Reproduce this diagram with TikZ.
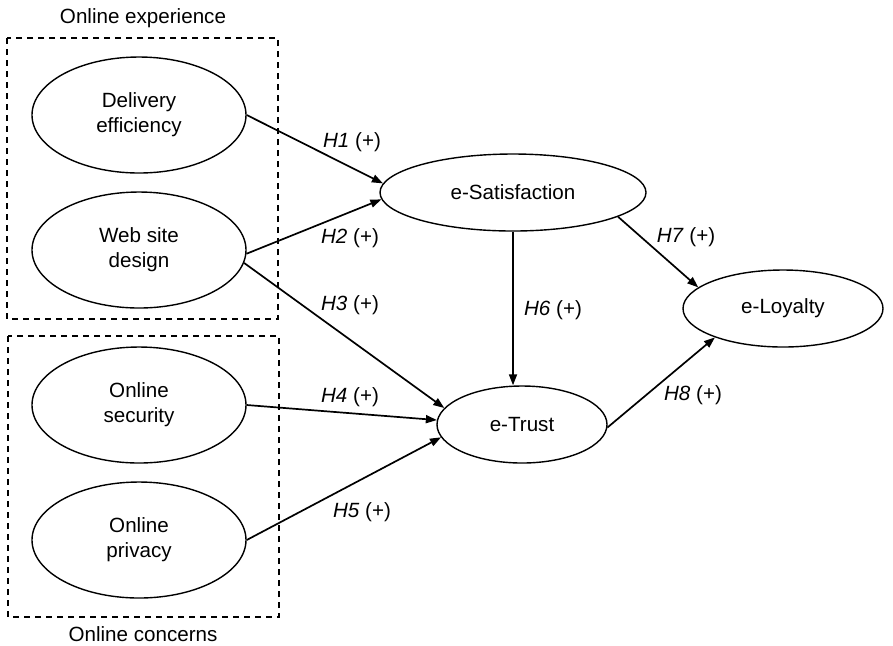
\documentclass[tikz,border=0pt]{standalone}
\usepackage{fontspec}
\setmainfont{Liberation Sans}
\usetikzlibrary{arrows.meta,shapes.geometric}

\begin{document}
\begin{tikzpicture}[x=0.5pt,y=-0.5pt,
	construct/.style={draw, ellipse, line width=0.7pt, inner sep=0pt, align=center, font=\fontsize{10.3}{12.4}\selectfont},
	hyp/.style={-{Triangle[length=5.5pt,width=4pt]}, line width=0.85pt},
	hlabel/.style={inner sep=0pt, font=\fontsize{10.3}{12.4}\selectfont},
	groupbox/.style={dash pattern=on 3pt off 2.5pt, line width=0.7pt}]
			%%%%% START %%%%%
			
			\useasboundingbox (0, 0) rectangle (893, 645);
			
			\draw[groupbox] (7, 38) rectangle (278, 319);
			\node[hlabel] (experience) at (143, 18) {Online experience};
			
			\draw[groupbox] (8, 336) rectangle (279, 617);
			\node[hlabel] (concerns) at (143, 634) {Online concerns};
			
			\node[construct, minimum width=107pt, minimum height=58pt] (deliv) at (139, 115) {Delivery\\efficiency};
			\node[construct, minimum width=107pt, minimum height=58pt] (webdes) at (139, 250) {Web site\\design};
			\node[construct, minimum width=107pt, minimum height=58pt] (secur) at (139, 405) {Online\\security};
			\node[construct, minimum width=107pt, minimum height=58pt] (privacy) at (139, 540) {Online\\privacy};
			
			\node[construct, minimum width=133pt, minimum height=38.5pt] (esat) at (513, 192.5) {e-Satisfaction};
			\node[construct, minimum width=85pt, minimum height=38.5pt] (etrust) at (522, 424.5) {e-Trust};
			\node[construct, minimum width=100pt, minimum height=38.5pt] (eloyal) at (783, 308.5) {e-Loyalty};
			
			\draw[hyp] (deliv.east) -- (esat.176);
			\draw[hyp] (webdes.358) -- (esat.183);
			\draw[hyp] (webdes.-7) -- (etrust.168);
			\draw[hyp] (secur.east) -- (etrust.177);
			\draw[hyp] (privacy.east) -- (etrust.189);
			\draw[hyp] (esat.south) -- (etrust.north -| esat.south);
			\draw[hyp] (esat.-13) -- (eloyal.166);
			\draw[hyp] (etrust.-2) -- (eloyal.203);
			
			\node[hlabel] (h1) at (352, 142) {\textit{H1} (+)};
			\node[hlabel] (h2) at (350, 238) {\textit{H2} (+)};
			\node[hlabel] (h3) at (350, 305) {\textit{H3} (+)};
			\node[hlabel] (h4) at (350, 397) {\textit{H4} (+)};
			\node[hlabel] (h5) at (362, 512) {\textit{H5} (+)};
			\node[hlabel] (h6) at (553, 310) {\textit{H6} (+)};
			\node[hlabel] (h7) at (686, 237) {\textit{H7} (+)};
			\node[hlabel] (h8) at (693, 395) {\textit{H8} (+)};
			
			%%%%% END %%%%%
		\end{tikzpicture}
\end{document}
